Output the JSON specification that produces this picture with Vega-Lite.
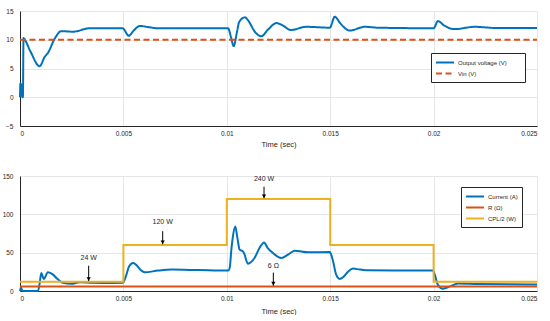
{
  "$schema": "https://vega.github.io/schema/vega-lite/v6.json",
  "padding": {"left": 2, "top": 8, "right": 0, "bottom": 0},
  "spacing": 50,
  "bounds": "flush",
  "config": {
    "font": "Liberation Sans",
    "view": {"stroke": null},
    "axis": {"labelFontSize": 6.5, "labelColor": "#262626", "titleFontSize": 7.5, "titleFontWeight": "normal", "titleColor": "#262626", "gridColor": "#e6e6e6", "domainColor": "#262626", "ticks": false},
    "axisX": {"labelPadding": 4, "titlePadding": 4},
    "axisY": {"labelPadding": 7},
    "legend": {"orient": "none", "title": null, "symbolType": "M-1,0H3", "symbolStrokeWidth": 2, "symbolSize": 81, "labelFontSize": 6, "labelColor": "#262626", "strokeColor": "#262626", "fillColor": "#ffffff", "padding": 4, "rowPadding": 1, "labelOffset": 12, "cornerRadius": 0}
  },
  "datasets": {
    "vout": [
      {"t": 0, "y": 0, "s": "Output voltage (V)"},
      {"t": 0.00002, "y": 2.4, "s": "Output voltage (V)"},
      {"t": 0.00005, "y": 0.3, "s": "Output voltage (V)"},
      {"t": 0.00008, "y": 2.2, "s": "Output voltage (V)"},
      {"t": 0.00011, "y": 0, "s": "Output voltage (V)"},
      {"t": 0.00014, "y": 0, "s": "Output voltage (V)"},
      {"t": 0.00017, "y": 10.3, "s": "Output voltage (V)"},
      {"t": 0.0002, "y": 10.2, "s": "Output voltage (V)"},
      {"t": 0.0005, "y": 8.0, "s": "Output voltage (V)"},
      {"t": 0.00095, "y": 5.4, "s": "Output voltage (V)"},
      {"t": 0.00119, "y": 7.0, "s": "Output voltage (V)"},
      {"t": 0.00135, "y": 7.7, "s": "Output voltage (V)"},
      {"t": 0.00168, "y": 10.2, "s": "Output voltage (V)"},
      {"t": 0.002, "y": 11.5, "s": "Output voltage (V)"},
      {"t": 0.00256, "y": 11.4, "s": "Output voltage (V)"},
      {"t": 0.00337, "y": 12.0, "s": "Output voltage (V)"},
      {"t": 0.00498, "y": 12.0, "s": "Output voltage (V)"},
      {"t": 0.00503, "y": 11.8, "s": "Output voltage (V)"},
      {"t": 0.00526, "y": 10.7, "s": "Output voltage (V)"},
      {"t": 0.0055, "y": 11.6, "s": "Output voltage (V)"},
      {"t": 0.00579, "y": 12.4, "s": "Output voltage (V)"},
      {"t": 0.0062, "y": 12.2, "s": "Output voltage (V)"},
      {"t": 0.00667, "y": 12.0, "s": "Output voltage (V)"},
      {"t": 0.01006, "y": 12.0, "s": "Output voltage (V)"},
      {"t": 0.0102, "y": 10.5, "s": "Output voltage (V)"},
      {"t": 0.01033, "y": 8.9, "s": "Output voltage (V)"},
      {"t": 0.0105, "y": 11.5, "s": "Output voltage (V)"},
      {"t": 0.0106, "y": 13.1, "s": "Output voltage (V)"},
      {"t": 0.01088, "y": 13.9, "s": "Output voltage (V)"},
      {"t": 0.011, "y": 13.5, "s": "Output voltage (V)"},
      {"t": 0.0114, "y": 11.2, "s": "Output voltage (V)"},
      {"t": 0.01167, "y": 10.6, "s": "Output voltage (V)"},
      {"t": 0.012, "y": 11.8, "s": "Output voltage (V)"},
      {"t": 0.0124, "y": 12.9, "s": "Output voltage (V)"},
      {"t": 0.0127, "y": 12.5, "s": "Output voltage (V)"},
      {"t": 0.01309, "y": 11.7, "s": "Output voltage (V)"},
      {"t": 0.01385, "y": 12.25, "s": "Output voltage (V)"},
      {"t": 0.01498, "y": 12.1, "s": "Output voltage (V)"},
      {"t": 0.01522, "y": 14.0, "s": "Output voltage (V)"},
      {"t": 0.0155, "y": 12.8, "s": "Output voltage (V)"},
      {"t": 0.01594, "y": 11.6, "s": "Output voltage (V)"},
      {"t": 0.01667, "y": 12.25, "s": "Output voltage (V)"},
      {"t": 0.01731, "y": 12.1, "s": "Output voltage (V)"},
      {"t": 0.02, "y": 12.0, "s": "Output voltage (V)"},
      {"t": 0.02021, "y": 13.25, "s": "Output voltage (V)"},
      {"t": 0.0205, "y": 12.5, "s": "Output voltage (V)"},
      {"t": 0.021, "y": 11.85, "s": "Output voltage (V)"},
      {"t": 0.022, "y": 12.25, "s": "Output voltage (V)"},
      {"t": 0.023, "y": 12.05, "s": "Output voltage (V)"},
      {"t": 0.025, "y": 12.05, "s": "Output voltage (V)"},
      {"t": 0, "y": 10, "s": "Vin (V)"},
      {"t": 0.025, "y": 10, "s": "Vin (V)"}
    ],
    "cur": [
      {"t": 0, "y": 0, "s": "Current (A)"},
      {"t": 0.00005, "y": 4.5, "s": "Current (A)"},
      {"t": 0.0001, "y": 1, "s": "Current (A)"},
      {"t": 0.00015, "y": 0, "s": "Current (A)"},
      {"t": 0.00087, "y": 0, "s": "Current (A)"},
      {"t": 0.00095, "y": 10, "s": "Current (A)"},
      {"t": 0.00103, "y": 23.6, "s": "Current (A)"},
      {"t": 0.00115, "y": 15.8, "s": "Current (A)"},
      {"t": 0.00135, "y": 24.4, "s": "Current (A)"},
      {"t": 0.0016, "y": 21.4, "s": "Current (A)"},
      {"t": 0.00176, "y": 17.1, "s": "Current (A)"},
      {"t": 0.00208, "y": 10.6, "s": "Current (A)"},
      {"t": 0.00248, "y": 9.4, "s": "Current (A)"},
      {"t": 0.00289, "y": 11.5, "s": "Current (A)"},
      {"t": 0.0035, "y": 10.8, "s": "Current (A)"},
      {"t": 0.0045, "y": 10.5, "s": "Current (A)"},
      {"t": 0.00498, "y": 10.6, "s": "Current (A)"},
      {"t": 0.00513, "y": 20, "s": "Current (A)"},
      {"t": 0.00527, "y": 32, "s": "Current (A)"},
      {"t": 0.00547, "y": 36.6, "s": "Current (A)"},
      {"t": 0.00566, "y": 33, "s": "Current (A)"},
      {"t": 0.00585, "y": 27, "s": "Current (A)"},
      {"t": 0.00603, "y": 24.4, "s": "Current (A)"},
      {"t": 0.00667, "y": 26.6, "s": "Current (A)"},
      {"t": 0.00732, "y": 27.9, "s": "Current (A)"},
      {"t": 0.00861, "y": 27.3, "s": "Current (A)"},
      {"t": 0.01006, "y": 26.6, "s": "Current (A)"},
      {"t": 0.01014, "y": 30, "s": "Current (A)"},
      {"t": 0.01022, "y": 54, "s": "Current (A)"},
      {"t": 0.0103, "y": 72, "s": "Current (A)"},
      {"t": 0.01041, "y": 84, "s": "Current (A)"},
      {"t": 0.01052, "y": 68, "s": "Current (A)"},
      {"t": 0.01062, "y": 54, "s": "Current (A)"},
      {"t": 0.01078, "y": 51.7, "s": "Current (A)"},
      {"t": 0.01085, "y": 48, "s": "Current (A)"},
      {"t": 0.01102, "y": 35.7, "s": "Current (A)"},
      {"t": 0.01134, "y": 43, "s": "Current (A)"},
      {"t": 0.01158, "y": 56, "s": "Current (A)"},
      {"t": 0.0118, "y": 63.4, "s": "Current (A)"},
      {"t": 0.01198, "y": 56, "s": "Current (A)"},
      {"t": 0.01214, "y": 51.7, "s": "Current (A)"},
      {"t": 0.01264, "y": 43, "s": "Current (A)"},
      {"t": 0.01296, "y": 47.4, "s": "Current (A)"},
      {"t": 0.01328, "y": 52.6, "s": "Current (A)"},
      {"t": 0.01393, "y": 50.4, "s": "Current (A)"},
      {"t": 0.01498, "y": 51, "s": "Current (A)"},
      {"t": 0.01504, "y": 48, "s": "Current (A)"},
      {"t": 0.01514, "y": 38.7, "s": "Current (A)"},
      {"t": 0.01528, "y": 22, "s": "Current (A)"},
      {"t": 0.01546, "y": 15.8, "s": "Current (A)"},
      {"t": 0.01562, "y": 18, "s": "Current (A)"},
      {"t": 0.01586, "y": 25, "s": "Current (A)"},
      {"t": 0.0161, "y": 29.2, "s": "Current (A)"},
      {"t": 0.01644, "y": 28, "s": "Current (A)"},
      {"t": 0.01683, "y": 27, "s": "Current (A)"},
      {"t": 0.01828, "y": 26.8, "s": "Current (A)"},
      {"t": 0.01997, "y": 26.6, "s": "Current (A)"},
      {"t": 0.02007, "y": 20, "s": "Current (A)"},
      {"t": 0.02021, "y": 8, "s": "Current (A)"},
      {"t": 0.02045, "y": 3, "s": "Current (A)"},
      {"t": 0.0208, "y": 6, "s": "Current (A)"},
      {"t": 0.02118, "y": 9.7, "s": "Current (A)"},
      {"t": 0.02214, "y": 9, "s": "Current (A)"},
      {"t": 0.025, "y": 8.4, "s": "Current (A)"}
    ],
    "steps": [
      {"t": 0, "y": 6, "s": "R (Ω)"},
      {"t": 0.025, "y": 6, "s": "R (Ω)"},
      {"t": 0, "y": 12, "s": "CPL/2 (W)"},
      {"t": 0.005, "y": 60, "s": "CPL/2 (W)"},
      {"t": 0.01, "y": 120, "s": "CPL/2 (W)"},
      {"t": 0.015, "y": 60, "s": "CPL/2 (W)"},
      {"t": 0.02, "y": 12, "s": "CPL/2 (W)"},
      {"t": 0.025, "y": 12, "s": "CPL/2 (W)"}
    ],
    "ann": [
      {"t": 0.00332, "label": "24 W", "ytext": 43, "ytop": 33, "ytip": 13},
      {"t": 0.0069, "label": "120 W", "ytext": 90, "ytop": 78, "ytip": 61},
      {"t": 0.0118, "label": "240 W", "ytext": 146, "ytop": 136, "ytip": 121},
      {"t": 0.01225, "label": "6 Ω", "ytext": 33, "ytop": 24, "ytip": 7}
    ]
  },
  "resolve": {"scale": {"color": "independent", "strokeDash": "independent", "y": "independent"}, "legend": {"color": "independent"}},
  "vconcat": [
    {
      "width": 517,
      "height": 115,
      "data": {"name": "vout"},
      "mark": {"type": "line", "interpolate": "monotone", "strokeWidth": 2},
      "encoding": {
        "x": {"field": "t", "type": "quantitative", "scale": {"domain": [0, 0.025], "nice": false}, "axis": {"values": [0, 0.005, 0.01, 0.015, 0.02, 0.025], "format": "~g", "title": "Time (sec)"}},
        "y": {"field": "y", "type": "quantitative", "scale": {"domain": [-5, 15], "nice": false}, "axis": {"values": [-5, 0, 5, 10, 15], "title": null}},
        "color": {"field": "s", "type": "nominal", "scale": {"domain": ["Output voltage (V)", "Vin (V)"], "range": ["#0072BD", "#D95319"]}, "legend": {"legendX": 411, "legendY": 42, "title": "MM", "titleOrient": "right", "titleColor": "#ffffff", "titleFontSize": 6, "titlePadding": 4}},
        "strokeDash": {"field": "s", "type": "nominal", "scale": {"domain": ["Output voltage (V)", "Vin (V)"], "range": [[1, 0], [6, 3.5]]}, "legend": {"legendX": 411, "legendY": 42, "title": "MM", "titleOrient": "right", "titleColor": "#ffffff", "titleFontSize": 6, "titlePadding": 4}}
      }
    },
    {
      "width": 517,
      "height": 115,
      "encoding": {
        "x": {"field": "t", "type": "quantitative", "scale": {"domain": [0, 0.025], "nice": false}, "axis": {"values": [0, 0.005, 0.01, 0.015, 0.02, 0.025], "format": "~g", "title": "Time (sec)", "titlePadding": 6}}
      },
      "layer": [
        {
          "data": {"name": "cur"},
          "mark": {"type": "line", "interpolate": "monotone", "strokeWidth": 2},
          "encoding": {
            "y": {"field": "y", "type": "quantitative", "scale": {"domain": [0, 150], "nice": false}, "axis": {"values": [0, 50, 100, 150], "title": null}},
            "color": {"field": "s", "type": "nominal", "scale": {"domain": ["Current (A)", "R (Ω)", "CPL/2 (W)"], "range": ["#0072BD", "#D95319", "#EDB120"]}, "legend": {"legendX": 441, "legendY": 11}}
          }
        },
        {
          "data": {"name": "steps"},
          "mark": {"type": "line", "interpolate": "step-after", "strokeWidth": 2},
          "encoding": {
            "y": {"field": "y", "type": "quantitative", "scale": {"domain": [0, 150], "nice": false}, "axis": {"values": [0, 50, 100, 150], "title": null}},
            "color": {"field": "s", "type": "nominal"}
          }
        },
        {
          "data": {"name": "ann"},
          "mark": {"type": "rule", "color": "#000000", "strokeWidth": 1},
          "encoding": {"y": {"field": "ytop", "type": "quantitative", "axis": {"values": [0, 50, 100, 150], "title": null}}, "y2": {"field": "ytip"}}
        },
        {
          "data": {"name": "ann"},
          "mark": {"type": "point", "shape": "triangle-down", "filled": true, "color": "#000000", "size": 18, "opacity": 1, "yOffset": -2},
          "encoding": {"y": {"field": "ytip", "type": "quantitative", "axis": {"values": [0, 50, 100, 150], "title": null}}}
        },
        {
          "data": {"name": "ann"},
          "mark": {"type": "text", "fontSize": 7, "color": "#262626"},
          "encoding": {"y": {"field": "ytext", "type": "quantitative", "axis": {"values": [0, 50, 100, 150], "title": null}}, "text": {"field": "label"}}
        }
      ]
    }
  ]
}
